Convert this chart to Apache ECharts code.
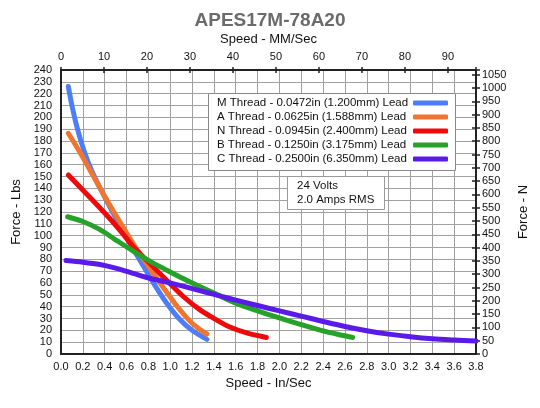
<!DOCTYPE html>
<html>
<head>
<meta charset="utf-8">
<script src="https://cdn.jsdelivr.net/npm/echarts@6/dist/echarts.min.js"></script>
<style>html,body{margin:0;padding:0;background:#fff}#c{width:540px;height:408px}</style>
</head>
<body>
<div id="c"></div>
<script>
// ---- data (speed in/sec, force lbs) ----
var seriesNames = [
  'M Thread - 0.0472in (1.200mm) Lead',
  'A Thread - 0.0625in (1.588mm) Lead',
  'N Thread - 0.0945in (2.400mm) Lead',
  'B Thread - 0.1250in (3.175mm) Lead',
  'C Thread - 0.2500in (6.350mm) Lead'
];
var mThread = [[0.067,226],[0.1,210],[0.15,190.5],[0.21,172],[0.28,155],[0.37,138],[0.46,122],[0.56,105],[0.66,89],[0.75,75],[0.85,59.5],[0.96,44],[1.08,30],[1.2,20],[1.336,12.4]];
var aThread = [[0.067,186.5],[0.19,167.8],[0.31,148],[0.43,128.5],[0.54,111.5],[0.69,89],[0.813,72.5],[0.934,56.5],[1.057,41],[1.178,28],[1.26,21.5],[1.336,16.9]];
var nThread = [[0.067,151.3],[0.25,133.8],[0.432,116],[0.55,103.5],[0.66,91],[0.813,76.6],[0.965,62.5],[1.117,48.8],[1.27,37.5],[1.42,29],[1.54,23],[1.7,17.8],[1.88,14]];
var bThread = [[0.061,116],[0.2,112],[0.35,105.5],[0.5,96.5],[0.66,87],[0.813,78.5],[0.965,71],[1.117,63.8],[1.27,57],[1.42,50.7],[1.6,43],[1.8,36.5],[2.0,30.5],[2.2,24.8],[2.4,19.5],[2.55,16.3],[2.67,14]];
var cThread = [[0.046,79],[0.2,77.6],[0.356,75.6],[0.508,72.4],[0.66,68.2],[0.813,64],[0.965,60.8],[1.117,57.3],[1.27,53.5],[1.42,50],[1.6,45.5],[1.8,41],[2.0,36.4],[2.2,32],[2.4,27.5],[2.6,23.2],[2.8,19.6],[3.0,16.8],[3.2,14.6],[3.4,12.9],[3.6,11.8],[3.8,10.9]];
var seriesData = [mThread, aThread, nThread, bThread, cThread];
var colors = ['#4d7ef5','#f07530','#ee0a0a','#26a22a','#5a1bea'];
var speedMax = 3.8;             // in/sec
var forceMax = 240;             // lbs
var mmMax = speedMax * 25.4;    // mm/sec
var newtonMax = forceMax * 4.44822; // N

var FONT = 'Liberation Sans';
var chart = echarts.init(document.getElementById('c'));
var legendText = {fontFamily: FONT, fontSize: 11.5, color: '#111', lineHeight: 12};
var option = {
  animation: false,
  textStyle: {fontFamily: FONT},
  title: [
    {text: 'APES17M-78A20', left: 'center', top: 6,
     textStyle: {fontFamily: FONT, fontSize: 19, fontWeight: 'bold', color: '#6b6b6b'}},
    {text: '24 Volts\n2.0 Amps RMS', left: 287, top: 176,
     padding: [3, 10, 3, 10], borderColor: '#999', borderWidth: 1, backgroundColor: '#fff',
     textStyle: {fontFamily: FONT, fontSize: 11.5, fontWeight: 'normal', color: '#111', lineHeight: 14}}
  ],
  graphic: [{
    type: 'rect', left: 208, top: 93, z: 3,
    shape: {width: 247, height: 77},
    style: {fill: '#fff', stroke: '#888', lineWidth: 1}
  }],
  legend: [
    {data: seriesNames, orient: 'vertical', align: 'left', left: 208, top: 93,
     padding: [4, 0, 3, 4], itemGap: 2, itemWidth: 0, itemHeight: 0, icon: 'rect',
     textStyle: legendText},
    {data: seriesNames, orient: 'vertical', align: 'left', left: 413, top: 93,
     padding: [4, 0, 3, 0], itemGap: 2, itemWidth: 35, itemHeight: 5, icon: 'roundRect',
     formatter: function () { return ' '; },
     textStyle: legendText}
  ],
  grid: {left: 61, right: 64, top: 70, bottom: 54},
  xAxis: [
    {type: 'value', position: 'bottom', min: 0, max: speedMax, interval: 0.2,
     name: 'Speed - In/Sec', nameLocation: 'middle', nameGap: 23,
     nameTextStyle: {fontFamily: FONT, fontSize: 13, color: '#111'},
     axisLine: {show: true, onZero: false, lineStyle: {color: '#222', width: 2}},
     axisTick: {show: false},
     axisLabel: {color: '#111', fontSize: 11, margin: 7, formatter: function (v) { return v.toFixed(1); }},
     splitLine: {show: true, lineStyle: {color: '#a0a0a0', width: 1}}},
    {type: 'value', position: 'top', min: 0, max: mmMax, interval: 10,
     name: 'Speed - MM/Sec', nameLocation: 'middle', nameGap: 21,
     nameTextStyle: {fontFamily: FONT, fontSize: 13, color: '#111'},
     axisLine: {show: true, onZero: false, lineStyle: {color: '#222', width: 2}},
     axisTick: {show: true, inside: false, length: 3, lineStyle: {color: '#222', width: 1.5}},
     axisLabel: {color: '#111', fontSize: 11, margin: 8, formatter: function (v) { return (Math.abs(v % 10) < 1e-6) ? String(v) : ''; }},
     splitLine: {show: false}},
    {type: 'value', position: 'top', min: 0, max: mmMax, interval: 10,
     axisLine: {show: false, onZero: false},
     axisTick: {show: true, inside: true, length: 3, lineStyle: {color: '#222', width: 1.5}},
     axisLabel: {show: false}, splitLine: {show: false}}
  ],
  yAxis: [
    {type: 'value', position: 'left', min: 0, max: forceMax, interval: 10,
     name: 'Force - Lbs', nameLocation: 'middle', nameGap: 33, nameRotate: 90,
     nameTextStyle: {fontFamily: FONT, fontSize: 13, color: '#111'},
     axisLine: {show: true, onZero: false, lineStyle: {color: '#222', width: 2}},
     axisTick: {show: false},
     axisLabel: {color: '#111', fontSize: 11, margin: 9},
     splitLine: {show: true, lineStyle: {color: '#a0a0a0', width: 1}}},
    {type: 'value', position: 'right', min: 0, max: newtonMax, interval: 50,
     name: 'Force - N', nameLocation: 'middle', nameGap: 39, nameRotate: 90,
     nameTextStyle: {fontFamily: FONT, fontSize: 13, color: '#111'},
     axisLine: {show: true, onZero: false, lineStyle: {color: '#222', width: 2}},
     axisTick: {show: true, inside: false, length: 4, lineStyle: {color: '#222', width: 1.5}},
     axisLabel: {color: '#111', fontSize: 11, margin: 6, formatter: function (v) { return (Math.abs(v % 50) < 1e-6) ? String(v) : ''; }},
     splitLine: {show: false}},
    {type: 'value', position: 'right', min: 0, max: newtonMax, interval: 50,
     axisLine: {show: false, onZero: false},
     axisTick: {show: true, inside: true, length: 4, lineStyle: {color: '#222', width: 1.5}},
     axisLabel: {show: false}, splitLine: {show: false}}
  ],
  series: seriesNames.map(function (n, i) {
    return {
      name: n, type: 'line', xAxisIndex: 0, yAxisIndex: 0, data: seriesData[i],
      smooth: 0.3, showSymbol: false, symbol: 'none',
      itemStyle: {color: colors[i]},
      lineStyle: {color: colors[i], width: 5, cap: 'round', join: 'round'}
    };
  })
};
chart.setOption(option);
</script>
</body>
</html>
